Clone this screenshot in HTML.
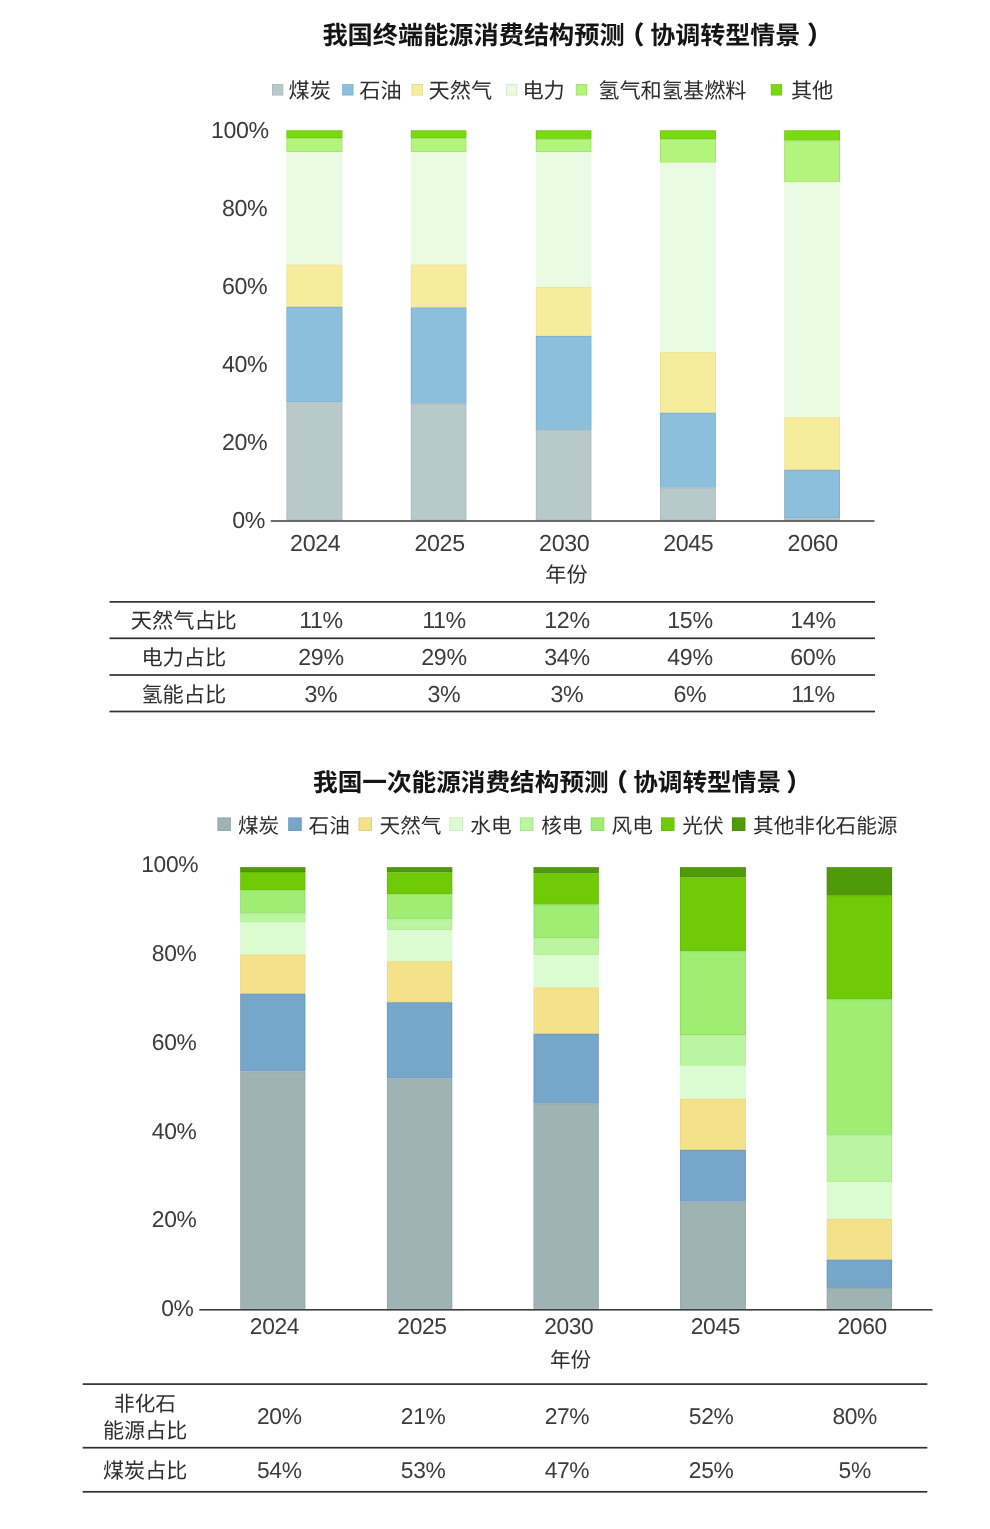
<!DOCTYPE html>
<html lang="zh-CN"><head><meta charset="utf-8"><title>我国能源消费结构预测</title>
<style>
html,body{margin:0;padding:0;background:#fff;}
svg{display:block}
text{font-family:"Liberation Sans", "Noto Sans CJK SC", sans-serif;text-rendering:geometricPrecision;}
.n{font-size:23.2px;letter-spacing:-0.35px;fill:#3c3c3c;font-family:"Liberation Sans", "Noto Sans CJK SC", sans-serif;}
.n2{font-size:22.8px;letter-spacing:-0.35px;fill:#3c3c3c;font-family:"Liberation Sans", "Noto Sans CJK SC", sans-serif;}
.c21{font-size:21.2px;fill:#2d2d2d;font-weight:400;}
.c20{font-size:20.65px;fill:#2d2d2d;font-weight:400;}
.c20b{font-size:21.1px;fill:#2d2d2d;font-weight:400;}
.t1{font-size:25.2px;fill:#141414;font-weight:700;}
.t1b{font-size:25.0px;fill:#141414;font-weight:700;}
.p{font-weight:900 !important;}
.t2{font-size:24.65px;fill:#141414;font-weight:700;}
</style></head><body>
<svg role="img" aria-label="我国能源消费结构预测" width="990" height="1529" viewBox="0 0 990 1529">
<rect width="990" height="1529" fill="#fff"/>
<g id="chart-terminal-energy">
<rect x="286.4" y="130.3" width="56.0" height="7.7" fill="#7ada10"/>
<rect x="286.8" y="130.7" width="55.2" height="6.9" fill="none" stroke="#000" stroke-opacity="0.09" stroke-width="0.8"/>
<rect x="286.4" y="138.0" width="56.0" height="14.0" fill="#b2f47c"/>
<rect x="286.8" y="138.4" width="55.2" height="13.2" fill="none" stroke="#000" stroke-opacity="0.09" stroke-width="0.8"/>
<rect x="286.4" y="152.0" width="56.0" height="112.6" fill="#e9fbe2"/>
<rect x="286.4" y="264.6" width="56.0" height="42.2" fill="#f7ec9c"/>
<rect x="286.8" y="265.0" width="55.2" height="41.4" fill="none" stroke="#000" stroke-opacity="0.045" stroke-width="0.8"/>
<rect x="286.4" y="306.8" width="56.0" height="95.5" fill="#8bbfdc"/>
<rect x="286.8" y="307.2" width="55.2" height="94.7" fill="none" stroke="#000" stroke-opacity="0.09" stroke-width="0.8"/>
<rect x="286.4" y="402.3" width="56.0" height="118.0" fill="#b8c9cb"/>
<rect x="286.8" y="402.7" width="55.2" height="117.2" fill="none" stroke="#000" stroke-opacity="0.07" stroke-width="0.8"/>
<rect x="410.8" y="130.3" width="55.6" height="7.7" fill="#7ada10"/>
<rect x="411.2" y="130.7" width="54.8" height="6.9" fill="none" stroke="#000" stroke-opacity="0.09" stroke-width="0.8"/>
<rect x="410.8" y="138.0" width="55.6" height="14.0" fill="#b2f47c"/>
<rect x="411.2" y="138.4" width="54.8" height="13.2" fill="none" stroke="#000" stroke-opacity="0.09" stroke-width="0.8"/>
<rect x="410.8" y="152.0" width="55.6" height="112.6" fill="#e9fbe2"/>
<rect x="410.8" y="264.6" width="55.6" height="42.9" fill="#f7ec9c"/>
<rect x="411.2" y="265.0" width="54.8" height="42.1" fill="none" stroke="#000" stroke-opacity="0.045" stroke-width="0.8"/>
<rect x="410.8" y="307.5" width="55.6" height="96.2" fill="#8bbfdc"/>
<rect x="411.2" y="307.9" width="54.8" height="95.4" fill="none" stroke="#000" stroke-opacity="0.09" stroke-width="0.8"/>
<rect x="410.8" y="403.7" width="55.6" height="116.6" fill="#b8c9cb"/>
<rect x="411.2" y="404.1" width="54.8" height="115.8" fill="none" stroke="#000" stroke-opacity="0.07" stroke-width="0.8"/>
<rect x="535.8" y="130.3" width="55.6" height="8.6" fill="#7ada10"/>
<rect x="536.2" y="130.7" width="54.8" height="7.8" fill="none" stroke="#000" stroke-opacity="0.09" stroke-width="0.8"/>
<rect x="535.8" y="138.9" width="55.6" height="13.1" fill="#b2f47c"/>
<rect x="536.2" y="139.3" width="54.8" height="12.3" fill="none" stroke="#000" stroke-opacity="0.09" stroke-width="0.8"/>
<rect x="535.8" y="152.0" width="55.6" height="134.9" fill="#e9fbe2"/>
<rect x="535.8" y="286.9" width="55.6" height="49.1" fill="#f7ec9c"/>
<rect x="536.2" y="287.3" width="54.8" height="48.3" fill="none" stroke="#000" stroke-opacity="0.045" stroke-width="0.8"/>
<rect x="535.8" y="336.0" width="55.6" height="93.8" fill="#8bbfdc"/>
<rect x="536.2" y="336.4" width="54.8" height="93.0" fill="none" stroke="#000" stroke-opacity="0.09" stroke-width="0.8"/>
<rect x="535.8" y="429.8" width="55.6" height="90.5" fill="#b8c9cb"/>
<rect x="536.2" y="430.2" width="54.8" height="89.7" fill="none" stroke="#000" stroke-opacity="0.07" stroke-width="0.8"/>
<rect x="660.0" y="130.3" width="55.9" height="8.9" fill="#7ada10"/>
<rect x="660.4" y="130.7" width="55.1" height="8.1" fill="none" stroke="#000" stroke-opacity="0.09" stroke-width="0.8"/>
<rect x="660.0" y="139.2" width="55.9" height="23.5" fill="#b2f47c"/>
<rect x="660.4" y="139.6" width="55.1" height="22.7" fill="none" stroke="#000" stroke-opacity="0.09" stroke-width="0.8"/>
<rect x="660.0" y="162.7" width="55.9" height="189.3" fill="#e9fbe2"/>
<rect x="660.0" y="352.0" width="55.9" height="60.8" fill="#f7ec9c"/>
<rect x="660.4" y="352.4" width="55.1" height="60.0" fill="none" stroke="#000" stroke-opacity="0.045" stroke-width="0.8"/>
<rect x="660.0" y="412.8" width="55.9" height="74.9" fill="#8bbfdc"/>
<rect x="660.4" y="413.2" width="55.1" height="74.1" fill="none" stroke="#000" stroke-opacity="0.09" stroke-width="0.8"/>
<rect x="660.0" y="487.7" width="55.9" height="32.6" fill="#b8c9cb"/>
<rect x="660.4" y="488.1" width="55.1" height="31.8" fill="none" stroke="#000" stroke-opacity="0.07" stroke-width="0.8"/>
<rect x="784.2" y="130.3" width="55.8" height="10.3" fill="#7ada10"/>
<rect x="784.6" y="130.7" width="55.0" height="9.5" fill="none" stroke="#000" stroke-opacity="0.09" stroke-width="0.8"/>
<rect x="784.2" y="140.6" width="55.8" height="41.7" fill="#b2f47c"/>
<rect x="784.6" y="141.0" width="55.0" height="40.9" fill="none" stroke="#000" stroke-opacity="0.09" stroke-width="0.8"/>
<rect x="784.2" y="182.3" width="55.8" height="234.9" fill="#e9fbe2"/>
<rect x="784.2" y="417.2" width="55.8" height="52.7" fill="#f7ec9c"/>
<rect x="784.6" y="417.6" width="55.0" height="51.9" fill="none" stroke="#000" stroke-opacity="0.045" stroke-width="0.8"/>
<rect x="784.2" y="469.9" width="55.8" height="48.3" fill="#8bbfdc"/>
<rect x="784.6" y="470.3" width="55.0" height="47.5" fill="none" stroke="#000" stroke-opacity="0.09" stroke-width="0.8"/>
<rect x="784.2" y="518.2" width="55.8" height="2.1" fill="#b8c9cb"/>
<rect x="784.6" y="518.6" width="55.0" height="1.3" fill="none" stroke="#000" stroke-opacity="0.07" stroke-width="0.8"/>
<rect x="270.7" y="520.25" width="603.8" height="1.5" fill="#3c3c3c"/>
<text x="268.9" y="138.0" class="n" text-anchor="end">100%</text>
<text x="267.4" y="216.3" class="n" text-anchor="end">80%</text>
<text x="267.4" y="294.3" class="n" text-anchor="end">60%</text>
<text x="267.4" y="372.1" class="n" text-anchor="end">40%</text>
<text x="267.4" y="449.9" class="n" text-anchor="end">20%</text>
<text x="265.0" y="527.8" class="n" text-anchor="end">0%</text>
<text x="315.2" y="551.3" class="n" text-anchor="middle">2024</text>
<text x="439.6" y="551.3" class="n" text-anchor="middle">2025</text>
<text x="564.2" y="551.3" class="n" text-anchor="middle">2030</text>
<text x="688.3" y="551.3" class="n" text-anchor="middle">2045</text>
<text x="812.7" y="551.3" class="n" text-anchor="middle">2060</text>
<text x="566.4" y="582.4" class="c21" text-anchor="middle">年份</text>
<text x="322.4" y="44.4" class="t1" text-anchor="start">我国终端能源消费结构预测</text>
<text x="631.8" y="44.4" class="t1 p" text-anchor="middle">（</text>
<text x="650.3" y="44.4" class="t1b" text-anchor="start">协调转型情景</text>
<text x="819.5" y="44.4" class="t1 p" text-anchor="middle">）</text>
<rect x="272.0" y="84.1" width="11.3" height="11.4" fill="#b8c9cb"/>
<rect x="272.4" y="84.5" width="10.5" height="10.6" fill="none" stroke="#000" stroke-opacity="0.09" stroke-width="0.8"/>
<text x="288.5" y="97.6" class="c21" text-anchor="start">煤炭</text>
<rect x="342.2" y="84.1" width="11.3" height="11.4" fill="#8bbfdc"/>
<rect x="342.6" y="84.5" width="10.5" height="10.6" fill="none" stroke="#000" stroke-opacity="0.09" stroke-width="0.8"/>
<text x="359.2" y="97.6" class="c21" text-anchor="start">石油</text>
<rect x="411.5" y="84.1" width="11.3" height="11.4" fill="#f7ec9c"/>
<rect x="411.9" y="84.5" width="10.5" height="10.6" fill="none" stroke="#000" stroke-opacity="0.09" stroke-width="0.8"/>
<text x="428.5" y="97.6" class="c21" text-anchor="start">天然气</text>
<rect x="506.0" y="84.1" width="11.3" height="11.4" fill="#e9fbe2"/>
<rect x="506.4" y="84.5" width="10.5" height="10.6" fill="none" stroke="#000" stroke-opacity="0.09" stroke-width="0.8"/>
<text x="522.4" y="97.6" class="c21" text-anchor="start">电力</text>
<rect x="575.8" y="84.1" width="11.3" height="11.4" fill="#b2f47c"/>
<rect x="576.2" y="84.5" width="10.5" height="10.6" fill="none" stroke="#000" stroke-opacity="0.09" stroke-width="0.8"/>
<text x="598.2" y="97.6" class="c21" text-anchor="start">氢气和氢基燃料</text>
<rect x="770.8" y="84.1" width="11.3" height="11.4" fill="#7ada10"/>
<rect x="771.2" y="84.5" width="10.5" height="10.6" fill="none" stroke="#000" stroke-opacity="0.09" stroke-width="0.8"/>
<text x="790.9" y="97.6" class="c21" text-anchor="start">其他</text>
<rect x="109.5" y="601.05" width="765.5" height="1.7" fill="#303030"/>
<rect x="109.5" y="637.45" width="765.5" height="1.7" fill="#303030"/>
<rect x="109.5" y="674.15" width="765.5" height="1.7" fill="#303030"/>
<rect x="109.5" y="710.65" width="765.5" height="1.7" fill="#303030"/>
<text x="183.8" y="628.1" class="c21" text-anchor="middle">天然气占比</text>
<text x="321.0" y="628.1" class="n" text-anchor="middle">11%</text>
<text x="444.0" y="628.1" class="n" text-anchor="middle">11%</text>
<text x="567.0" y="628.1" class="n" text-anchor="middle">12%</text>
<text x="690.0" y="628.1" class="n" text-anchor="middle">15%</text>
<text x="813.0" y="628.1" class="n" text-anchor="middle">14%</text>
<text x="183.8" y="665.2" class="c21" text-anchor="middle">电力占比</text>
<text x="321.0" y="665.2" class="n" text-anchor="middle">29%</text>
<text x="444.0" y="665.2" class="n" text-anchor="middle">29%</text>
<text x="567.0" y="665.2" class="n" text-anchor="middle">34%</text>
<text x="690.0" y="665.2" class="n" text-anchor="middle">49%</text>
<text x="813.0" y="665.2" class="n" text-anchor="middle">60%</text>
<text x="183.8" y="702.3" class="c21" text-anchor="middle">氢能占比</text>
<text x="321.0" y="702.3" class="n" text-anchor="middle">3%</text>
<text x="444.0" y="702.3" class="n" text-anchor="middle">3%</text>
<text x="567.0" y="702.3" class="n" text-anchor="middle">3%</text>
<text x="690.0" y="702.3" class="n" text-anchor="middle">6%</text>
<text x="813.0" y="702.3" class="n" text-anchor="middle">11%</text>
</g>
<g id="chart-primary-energy">
<rect x="240.2" y="867.2" width="65.2" height="4.8" fill="#4f9a09"/>
<rect x="240.6" y="867.6" width="64.4" height="4.0" fill="none" stroke="#000" stroke-opacity="0.09" stroke-width="0.8"/>
<rect x="240.2" y="872.0" width="65.2" height="18.3" fill="#6fcb05"/>
<rect x="240.6" y="872.4" width="64.4" height="17.5" fill="none" stroke="#000" stroke-opacity="0.09" stroke-width="0.8"/>
<rect x="240.2" y="890.3" width="65.2" height="23.3" fill="#9fed72"/>
<rect x="240.6" y="890.7" width="64.4" height="22.5" fill="none" stroke="#000" stroke-opacity="0.09" stroke-width="0.8"/>
<rect x="240.2" y="913.6" width="65.2" height="9.0" fill="#bcf59f"/>
<rect x="240.6" y="914.0" width="64.4" height="8.2" fill="none" stroke="#000" stroke-opacity="0.05" stroke-width="0.8"/>
<rect x="240.2" y="922.6" width="65.2" height="31.9" fill="#dbfcd0"/>
<rect x="240.2" y="954.5" width="65.2" height="39.2" fill="#f3e28a"/>
<rect x="240.6" y="954.9" width="64.4" height="38.4" fill="none" stroke="#000" stroke-opacity="0.045" stroke-width="0.8"/>
<rect x="240.2" y="993.7" width="65.2" height="77.7" fill="#76a6c9"/>
<rect x="240.6" y="994.1" width="64.4" height="76.9" fill="none" stroke="#000" stroke-opacity="0.09" stroke-width="0.8"/>
<rect x="240.2" y="1071.4" width="65.2" height="237.4" fill="#9fb3b5"/>
<rect x="240.6" y="1071.8" width="64.4" height="236.6" fill="none" stroke="#000" stroke-opacity="0.07" stroke-width="0.8"/>
<rect x="386.9" y="867.2" width="65.4" height="5.2" fill="#4f9a09"/>
<rect x="387.3" y="867.6" width="64.6" height="4.4" fill="none" stroke="#000" stroke-opacity="0.09" stroke-width="0.8"/>
<rect x="386.9" y="872.4" width="65.4" height="21.8" fill="#6fcb05"/>
<rect x="387.3" y="872.8" width="64.6" height="21.0" fill="none" stroke="#000" stroke-opacity="0.09" stroke-width="0.8"/>
<rect x="386.9" y="894.2" width="65.4" height="25.2" fill="#9fed72"/>
<rect x="387.3" y="894.6" width="64.6" height="24.4" fill="none" stroke="#000" stroke-opacity="0.09" stroke-width="0.8"/>
<rect x="386.9" y="919.4" width="65.4" height="10.6" fill="#bcf59f"/>
<rect x="387.3" y="919.8" width="64.6" height="9.8" fill="none" stroke="#000" stroke-opacity="0.05" stroke-width="0.8"/>
<rect x="386.9" y="930.0" width="65.4" height="31.2" fill="#dbfcd0"/>
<rect x="386.9" y="961.2" width="65.4" height="41.1" fill="#f3e28a"/>
<rect x="387.3" y="961.6" width="64.6" height="40.3" fill="none" stroke="#000" stroke-opacity="0.045" stroke-width="0.8"/>
<rect x="386.9" y="1002.3" width="65.4" height="76.0" fill="#76a6c9"/>
<rect x="387.3" y="1002.7" width="64.6" height="75.2" fill="none" stroke="#000" stroke-opacity="0.09" stroke-width="0.8"/>
<rect x="386.9" y="1078.3" width="65.4" height="230.5" fill="#9fb3b5"/>
<rect x="387.3" y="1078.7" width="64.6" height="229.7" fill="none" stroke="#000" stroke-opacity="0.07" stroke-width="0.8"/>
<rect x="533.5" y="867.2" width="65.3" height="6.1" fill="#4f9a09"/>
<rect x="533.9" y="867.6" width="64.5" height="5.3" fill="none" stroke="#000" stroke-opacity="0.09" stroke-width="0.8"/>
<rect x="533.5" y="873.3" width="65.3" height="31.3" fill="#6fcb05"/>
<rect x="533.9" y="873.7" width="64.5" height="30.5" fill="none" stroke="#000" stroke-opacity="0.09" stroke-width="0.8"/>
<rect x="533.5" y="904.6" width="65.3" height="33.7" fill="#9fed72"/>
<rect x="533.9" y="905.0" width="64.5" height="32.9" fill="none" stroke="#000" stroke-opacity="0.09" stroke-width="0.8"/>
<rect x="533.5" y="938.3" width="65.3" height="16.9" fill="#bcf59f"/>
<rect x="533.9" y="938.7" width="64.5" height="16.1" fill="none" stroke="#000" stroke-opacity="0.05" stroke-width="0.8"/>
<rect x="533.5" y="955.2" width="65.3" height="32.3" fill="#dbfcd0"/>
<rect x="533.5" y="987.5" width="65.3" height="46.3" fill="#f3e28a"/>
<rect x="533.9" y="987.9" width="64.5" height="45.5" fill="none" stroke="#000" stroke-opacity="0.045" stroke-width="0.8"/>
<rect x="533.5" y="1033.8" width="65.3" height="69.9" fill="#76a6c9"/>
<rect x="533.9" y="1034.2" width="64.5" height="69.1" fill="none" stroke="#000" stroke-opacity="0.09" stroke-width="0.8"/>
<rect x="533.5" y="1103.7" width="65.3" height="205.1" fill="#9fb3b5"/>
<rect x="533.9" y="1104.1" width="64.5" height="204.3" fill="none" stroke="#000" stroke-opacity="0.07" stroke-width="0.8"/>
<rect x="680.0" y="867.2" width="65.9" height="10.2" fill="#4f9a09"/>
<rect x="680.4" y="867.6" width="65.1" height="9.4" fill="none" stroke="#000" stroke-opacity="0.09" stroke-width="0.8"/>
<rect x="680.0" y="877.4" width="65.9" height="73.9" fill="#6fcb05"/>
<rect x="680.4" y="877.8" width="65.1" height="73.1" fill="none" stroke="#000" stroke-opacity="0.09" stroke-width="0.8"/>
<rect x="680.0" y="951.3" width="65.9" height="83.8" fill="#9fed72"/>
<rect x="680.4" y="951.7" width="65.1" height="83.0" fill="none" stroke="#000" stroke-opacity="0.09" stroke-width="0.8"/>
<rect x="680.0" y="1035.1" width="65.9" height="30.7" fill="#bcf59f"/>
<rect x="680.4" y="1035.5" width="65.1" height="29.9" fill="none" stroke="#000" stroke-opacity="0.05" stroke-width="0.8"/>
<rect x="680.0" y="1065.8" width="65.9" height="33.1" fill="#dbfcd0"/>
<rect x="680.0" y="1098.9" width="65.9" height="51.0" fill="#f3e28a"/>
<rect x="680.4" y="1099.3" width="65.1" height="50.2" fill="none" stroke="#000" stroke-opacity="0.045" stroke-width="0.8"/>
<rect x="680.0" y="1149.9" width="65.9" height="51.7" fill="#76a6c9"/>
<rect x="680.4" y="1150.3" width="65.1" height="50.9" fill="none" stroke="#000" stroke-opacity="0.09" stroke-width="0.8"/>
<rect x="680.0" y="1201.6" width="65.9" height="107.2" fill="#9fb3b5"/>
<rect x="680.4" y="1202.0" width="65.1" height="106.4" fill="none" stroke="#000" stroke-opacity="0.07" stroke-width="0.8"/>
<rect x="826.7" y="867.2" width="65.4" height="28.5" fill="#4f9a09"/>
<rect x="827.1" y="867.6" width="64.6" height="27.7" fill="none" stroke="#000" stroke-opacity="0.09" stroke-width="0.8"/>
<rect x="826.7" y="895.7" width="65.4" height="103.8" fill="#6fcb05"/>
<rect x="827.1" y="896.1" width="64.6" height="103.0" fill="none" stroke="#000" stroke-opacity="0.09" stroke-width="0.8"/>
<rect x="826.7" y="999.5" width="65.4" height="135.3" fill="#9fed72"/>
<rect x="827.1" y="999.9" width="64.6" height="134.5" fill="none" stroke="#000" stroke-opacity="0.09" stroke-width="0.8"/>
<rect x="826.7" y="1134.8" width="65.4" height="47.3" fill="#bcf59f"/>
<rect x="827.1" y="1135.2" width="64.6" height="46.5" fill="none" stroke="#000" stroke-opacity="0.05" stroke-width="0.8"/>
<rect x="826.7" y="1182.1" width="65.4" height="36.8" fill="#dbfcd0"/>
<rect x="826.7" y="1218.9" width="65.4" height="40.8" fill="#f3e28a"/>
<rect x="827.1" y="1219.3" width="64.6" height="40.0" fill="none" stroke="#000" stroke-opacity="0.045" stroke-width="0.8"/>
<rect x="826.7" y="1259.7" width="65.4" height="28.2" fill="#76a6c9"/>
<rect x="827.1" y="1260.1" width="64.6" height="27.4" fill="none" stroke="#000" stroke-opacity="0.09" stroke-width="0.8"/>
<rect x="826.7" y="1287.9" width="65.4" height="20.9" fill="#9fb3b5"/>
<rect x="827.1" y="1288.3" width="64.6" height="20.1" fill="none" stroke="#000" stroke-opacity="0.07" stroke-width="0.8"/>
<rect x="199.3" y="1309.00" width="733.2" height="1.6" fill="#3c3c3c"/>
<text x="198.2" y="872.4" class="n2" text-anchor="end">100%</text>
<text x="196.4" y="961.4" class="n2" text-anchor="end">80%</text>
<text x="196.4" y="1050.0" class="n2" text-anchor="end">60%</text>
<text x="196.4" y="1138.9" class="n2" text-anchor="end">40%</text>
<text x="196.4" y="1227.2" class="n2" text-anchor="end">20%</text>
<text x="193.4" y="1316.3" class="n2" text-anchor="end">0%</text>
<text x="274.5" y="1334.4" class="n2" text-anchor="middle">2024</text>
<text x="422.0" y="1334.4" class="n2" text-anchor="middle">2025</text>
<text x="568.8" y="1334.4" class="n2" text-anchor="middle">2030</text>
<text x="715.4" y="1334.4" class="n2" text-anchor="middle">2045</text>
<text x="862.2" y="1334.4" class="n2" text-anchor="middle">2060</text>
<text x="570.6" y="1367.4" class="c20" text-anchor="middle">年份</text>
<text x="313.0" y="790.9" class="t2" text-anchor="start">我国一次能源消费结构预测</text>
<text x="615.5" y="790.9" class="t2 p" text-anchor="middle">（</text>
<text x="633.2" y="790.9" class="t2" text-anchor="start">协调转型情景</text>
<text x="798.5" y="790.9" class="t2 p" text-anchor="middle">）</text>
<rect x="217.4" y="817.4" width="13.5" height="13.6" fill="#9fb3b5"/>
<rect x="217.8" y="817.8" width="12.7" height="12.8" fill="none" stroke="#000" stroke-opacity="0.09" stroke-width="0.8"/>
<text x="237.9" y="833.4" class="c20" text-anchor="start">煤炭</text>
<rect x="288.2" y="817.4" width="13.5" height="13.6" fill="#76a6c9"/>
<rect x="288.6" y="817.8" width="12.7" height="12.8" fill="none" stroke="#000" stroke-opacity="0.09" stroke-width="0.8"/>
<text x="308.5" y="833.4" class="c20" text-anchor="start">石油</text>
<rect x="358.5" y="817.4" width="13.5" height="13.6" fill="#f3e28a"/>
<rect x="358.9" y="817.8" width="12.7" height="12.8" fill="none" stroke="#000" stroke-opacity="0.09" stroke-width="0.8"/>
<text x="379.5" y="833.4" class="c20" text-anchor="start">天然气</text>
<rect x="449.4" y="817.4" width="13.5" height="13.6" fill="#dbfcd0"/>
<rect x="449.8" y="817.8" width="12.7" height="12.8" fill="none" stroke="#000" stroke-opacity="0.09" stroke-width="0.8"/>
<text x="470.3" y="833.4" class="c20" text-anchor="start">水电</text>
<rect x="519.9" y="817.4" width="13.5" height="13.6" fill="#bcf59f"/>
<rect x="520.3" y="817.8" width="12.7" height="12.8" fill="none" stroke="#000" stroke-opacity="0.09" stroke-width="0.8"/>
<text x="541.2" y="833.4" class="c20" text-anchor="start">核电</text>
<rect x="590.8" y="817.4" width="13.5" height="13.6" fill="#9fed72"/>
<rect x="591.2" y="817.8" width="12.7" height="12.8" fill="none" stroke="#000" stroke-opacity="0.09" stroke-width="0.8"/>
<text x="611.6" y="833.4" class="c20" text-anchor="start">风电</text>
<rect x="661.0" y="817.4" width="13.5" height="13.6" fill="#6fcb05"/>
<rect x="661.4" y="817.8" width="12.7" height="12.8" fill="none" stroke="#000" stroke-opacity="0.09" stroke-width="0.8"/>
<text x="682.3" y="833.4" class="c20" text-anchor="start">光伏</text>
<rect x="731.9" y="817.4" width="13.5" height="13.6" fill="#4f9a09"/>
<rect x="732.3" y="817.8" width="12.7" height="12.8" fill="none" stroke="#000" stroke-opacity="0.09" stroke-width="0.8"/>
<text x="753.0" y="833.4" class="c20" text-anchor="start">其他非化石能源</text>
<rect x="82.7" y="1383.25" width="844.6" height="1.7" fill="#303030"/>
<rect x="82.7" y="1446.85" width="844.6" height="1.7" fill="#303030"/>
<rect x="82.7" y="1490.95" width="844.6" height="1.7" fill="#303030"/>
<text x="145.0" y="1410.8" class="c20" text-anchor="middle">非化石</text>
<text x="145.2" y="1438.1" class="c20b" text-anchor="middle">能源占比</text>
<text x="145.2" y="1478.1" class="c20b" text-anchor="middle">煤炭占比</text>
<text x="279.3" y="1423.7" class="n2" text-anchor="middle">20%</text>
<text x="423.1" y="1423.7" class="n2" text-anchor="middle">21%</text>
<text x="567.0" y="1423.7" class="n2" text-anchor="middle">27%</text>
<text x="711.1" y="1423.7" class="n2" text-anchor="middle">52%</text>
<text x="854.7" y="1423.7" class="n2" text-anchor="middle">80%</text>
<text x="279.3" y="1477.9" class="n2" text-anchor="middle">54%</text>
<text x="423.1" y="1477.9" class="n2" text-anchor="middle">53%</text>
<text x="567.0" y="1477.9" class="n2" text-anchor="middle">47%</text>
<text x="711.1" y="1477.9" class="n2" text-anchor="middle">25%</text>
<text x="854.7" y="1477.9" class="n2" text-anchor="middle">5%</text>
</g>
</svg>
</body></html>
